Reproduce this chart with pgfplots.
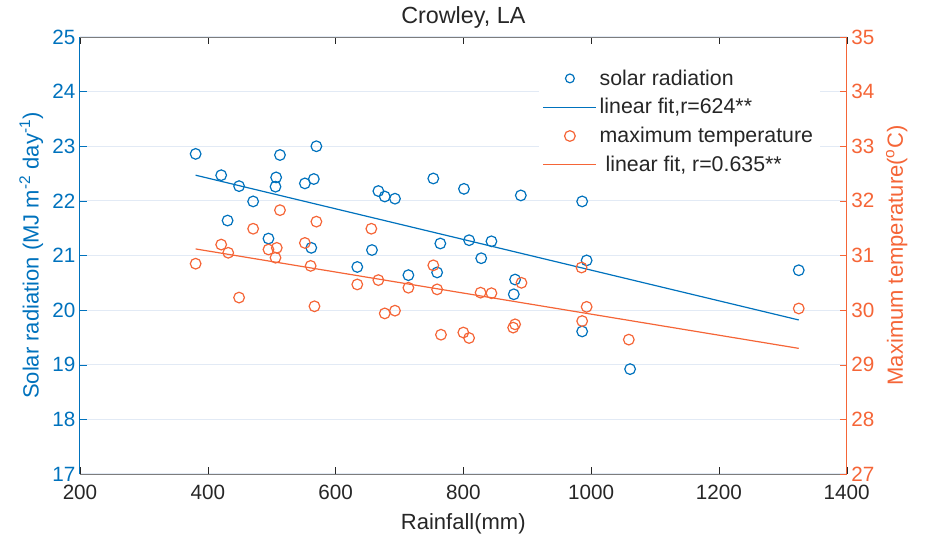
\documentclass[border=0pt]{standalone}
\usepackage{fontspec}
\setmainfont{Liberation Sans}
\usepackage{pgfplots}
\pgfplotsset{compat=1.18}
\definecolor{mblue}{RGB}{0,114,189}
\definecolor{morange}{RGB}{245,101,55}
\definecolor{txt}{RGB}{38,38,38}
\definecolor{gridc}{RGB}{226,234,245}

\pgfplotsset{
  common/.style={
    scale only axis,
    width=575pt, height=327.75pt,
    xmin=200, xmax=1400,
    xtick={200,400,...,1400},
    font=\fontsize{15.5}{18}\selectfont,
    /pgf/number format/assume math mode=true,
    /pgf/number format/set thousands separator={},
    major tick length=5pt,
    tick align=inside,
    legend image code/.code={%
      \draw[mark repeat=2,mark phase=2,#1]
        plot coordinates {(0cm,0cm) (0.7cm,0cm) (1.4cm,0cm)};},
  },
  pts/.style={only marks, mark=o, mark size=4pt, line width=0.9pt},
}

\begin{document}
\begin{tikzpicture}
\path[use as bounding box] (-60pt,-54.75pt) rectangle (633.75pt,355.5pt);
% left axis: solar radiation
\begin{axis}[common,
  ymin=17, ymax=25, ytick={17,...,25},
  ytick pos=left,
  ymajorgrids, grid style={gridc, line width=0.9pt},
  separate axis lines,
  x axis line style={txt!60, line width=0.75pt},
  y axis line style={mblue, line width=0.75pt},
  x tick style={txt}, y tick style={mblue},
  xticklabel style={txt, yshift=-5pt}, yticklabel style={mblue},
  xlabel={Rainfall(mm)},
  xlabel style={txt, font=\fontsize{16.5}{19}\selectfont, yshift=-3pt},
  ylabel={Solar radiation (MJ m\textsuperscript{-2} day\textsuperscript{-1})},
  ylabel style={mblue, font=\fontsize{16.5}{19}\selectfont},
  title={Crowley, LA},
  title style={txt, font=\fontsize{17.5}{20}\selectfont, yshift=-3pt},
]
\addplot[pts, mblue] coordinates {
  (381,22.86) (570,23.00) (513,22.84) (421,22.47) (449,22.27) (507,22.43)
  (506,22.26) (552,22.32) (566,22.40) (471,21.99) (667,22.18) (677,22.08)
  (693,22.04) (431,21.64) (495,21.31) (562,21.14) (657,21.10) (634,20.79)
  (753,22.41) (801,22.22) (890,22.10) (986,21.99) (764,21.22) (809,21.28)
  (844,21.26) (828,20.95) (714,20.64) (759,20.69) (881,20.56) (879,20.29)
  (993,20.91) (986,19.61) (1325,20.73) (1061,18.92)
};
\addplot[mblue, line width=0.9pt] coordinates {(381,22.47) (1325,19.82)};
\end{axis}

% right axis: maximum temperature
\begin{axis}[common,
  ymin=27, ymax=35, ytick={27,...,35},
  axis x line=none,
  axis y line*=right,
  y axis line style={morange, line width=0.75pt},
  y tick style={morange},
  yticklabel style={morange},
  ylabel={Maximum temperature(\textsuperscript{o}C)},
  ylabel style={morange, font=\fontsize{16.5}{19}\selectfont, yshift=-2pt},
  legend style={at={(rel axis cs:0.598,0.938)}, anchor=north west,
    draw=none, fill=white, text=txt, row sep=4.5pt,
    font=\fontsize{16}{19}\selectfont},
  legend cell align=left,
]
\addlegendimage{pts, mblue, mark size=3.3pt}
\addlegendentry{solar radiation}
\addlegendimage{mblue, line width=0.9pt}
\addlegendentry{linear fit,r=624**}
\addplot[pts, morange] coordinates {
  (513,31.83) (570,31.62) (471,31.49) (656,31.49) (421,31.20) (432,31.05)
  (495,31.11) (508,31.14) (506,30.96) (552,31.23) (381,30.85) (561,30.81)
  (634,30.47) (667,30.55) (449,30.23) (567,30.07) (677,29.94) (693,29.99)
  (753,30.82) (714,30.41) (759,30.38) (827,30.32) (844,30.31) (891,30.50)
  (985,30.78) (993,30.06) (986,29.80) (765,29.55) (800,29.59) (809,29.49)
  (881,29.74) (878,29.68) (1059,29.46) (1325,30.03)
};
\addlegendentry{maximum temperature}
\addplot[morange, line width=0.9pt] coordinates {(381,31.12) (1325,29.30)};
\addlegendentry{\ linear fit, r=0.635**}
\end{axis}
\end{tikzpicture}
\end{document}
